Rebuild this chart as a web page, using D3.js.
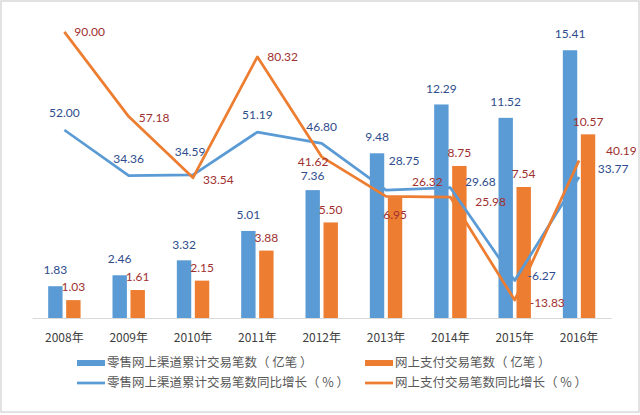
<!DOCTYPE html>
<html>
<head>
<meta charset="utf-8">
<script src="https://cdn.jsdelivr.net/npm/d3@7"></script>
<style>
  html, body { margin: 0; padding: 0; background: #fff; }
  svg { display: block; }
</style>
</head>
<body>
<svg id="chart" width="640" height="415"></svg>
<script>
// ---- data ----
const years = ['2008年','2009年','2010年','2011年','2012年','2013年','2014年','2015年','2016年'];
const retailCount = [1.83, 2.46, 3.32, 5.01, 7.36, 9.48, 12.29, 11.52, 15.41];
const payCount = [1.03, 1.61, 2.15, 3.88, 5.50, 6.95, 8.75, 7.54, 10.57];
const retailGrowth = [52.00, 34.36, 34.59, 51.19, 46.80, 28.75, 29.68, -6.27, 33.77];
const payGrowth = [90.00, 57.18, 33.54, 80.32, 41.62, 26.32, 25.98, -13.83, 40.19];
const seriesNames = ['零售网上渠道累计交易笔数（ 亿笔 ）', '网上支付交易笔数（ 亿笔 ）',
                     '零售网上渠道累计交易笔数同比增长（ % ）', '网上支付交易笔数同比增长（ % ）'];

// label nudges (manual placements in the original)
const retailGrowthNudge = [[0,0],[0,0],[-3,-6],[0,0],[0,0],[18,-12],[30,11],[27,12],[34,9]];
const payGrowthNudge = [[0,0],[0,1],[0,2],[0,0],[-34,5],[16,-15],[15,5],[5,3],[17,-10]];
const payCountNudge = [[0,0],[0,0],[0,0],[0,0],[0,0],[0,31],[0,0],[0,0],[0,0]];
const retailCountNudge = [[0,0],[0,0],[0,0],[0,0],[0,2],[0,0],[0,0],[0,0],[0,0]];

const BLUE = '#5B9BD5', ORANGE = '#ED7D31';
const BLUE_TXT = '#2f4d8c', RED_TXT = '#a0302f';
const NUM_FONT = 'Lato, "Open Sans", sans-serif';
const CJK_FONT = '"Noto Sans CJK SC", "Noto Sans", sans-serif';

const svg = d3.select('#chart');
svg.append('rect').attr('x', 1).attr('y', 1).attr('width', 638).attr('height', 411)
  .attr('fill', '#fff').attr('stroke', '#d9d9d9').attr('stroke-width', 1.5);

const x = d3.scaleBand().domain(years).range([32.2, 611.2]).padding(0);
const yL = d3.scaleLinear().domain([0, 16]).range([318, 40]);
const yR = d3.scaleLinear().domain([-20, 100]).range([316, 6]);
const cx = d => x(d) + x.bandwidth() / 2;
const BW = 14.4, OFF = 9;

// bars
const gBars = svg.append('g');
gBars.selectAll('.b1').data(years).join('rect')
  .attr('x', (d) => cx(d) - OFF - BW / 2)
  .attr('y', (d, i) => yL(retailCount[i]))
  .attr('width', BW)
  .attr('height', (d, i) => yL(0) - yL(retailCount[i]))
  .attr('fill', BLUE);
gBars.selectAll('.b2').data(years).join('rect')
  .attr('x', (d) => cx(d) + OFF - BW / 2)
  .attr('y', (d, i) => yL(payCount[i]))
  .attr('width', BW)
  .attr('height', (d, i) => yL(0) - yL(payCount[i]))
  .attr('fill', ORANGE);

// x axis
const ax = svg.append('g').attr('transform', `translate(0,${yL(0)})`)
  .call(d3.axisBottom(x).tickSize(0).tickPadding(15));
ax.select('.domain').attr('stroke', '#d9d9d9').attr('stroke-width', 1);
ax.selectAll('text').attr('font-family', CJK_FONT).attr('font-size', 12).attr('fill', '#404040');

// lines
const line = (vals) => d3.line().x((d) => cx(d)).y((d, i) => yR(vals[i]))(years);
svg.append('path').attr('d', line(retailGrowth)).attr('fill', 'none')
  .attr('stroke', BLUE).attr('stroke-width', 2.75).attr('stroke-linejoin', 'round');
svg.append('path').attr('d', line(payGrowth)).attr('fill', 'none')
  .attr('stroke', ORANGE).attr('stroke-width', 2.75).attr('stroke-linejoin', 'round');

// labels
const gL = svg.append('g').attr('font-family', NUM_FONT).attr('font-size', 12);
gL.selectAll('.l1').data(years).join('text')
  .attr('x', (d, i) => cx(d) - OFF + retailCountNudge[i][0])
  .attr('y', (d, i) => yL(retailCount[i]) - 16 + retailCountNudge[i][1])
  .attr('dy', '0.35em').attr('text-anchor', 'middle').attr('fill', BLUE_TXT)
  .text((d, i) => retailCount[i].toFixed(2));
gL.selectAll('.l2').data(years).join('text')
  .attr('x', (d, i) => cx(d) + OFF + payCountNudge[i][0])
  .attr('y', (d, i) => yL(payCount[i]) - 13 + payCountNudge[i][1])
  .attr('dy', '0.35em').attr('text-anchor', 'middle').attr('fill', RED_TXT)
  .text((d, i) => payCount[i].toFixed(2));
gL.selectAll('.l3').data(years).join('text')
  .attr('x', (d, i) => cx(d) + retailGrowthNudge[i][0])
  .attr('y', (d, i) => yR(retailGrowth[i]) - 17 + retailGrowthNudge[i][1])
  .attr('dy', '0.35em').attr('text-anchor', 'middle').attr('fill', BLUE_TXT)
  .text((d, i) => retailGrowth[i].toFixed(2));
gL.selectAll('.l4').data(years).join('text')
  .attr('x', (d, i) => cx(d) + 10 + payGrowthNudge[i][0])
  .attr('y', (d, i) => yR(payGrowth[i]) + payGrowthNudge[i][1])
  .attr('dy', '0.35em').attr('text-anchor', 'start').attr('fill', RED_TXT)
  .text((d, i) => payGrowth[i].toFixed(2));

// legend
const legendItems = [
  { name: seriesNames[0], color: BLUE, type: 'rect', x: 77, y: 363 },
  { name: seriesNames[1], color: ORANGE, type: 'rect', x: 365, y: 363 },
  { name: seriesNames[2], color: BLUE, type: 'line', x: 77, y: 383 },
  { name: seriesNames[3], color: ORANGE, type: 'line', x: 365, y: 383 }
];
const lg = svg.append('g');
legendItems.forEach(it => {
  if (it.type === 'rect') {
    lg.append('rect').attr('x', it.x).attr('y', it.y - 3).attr('width', 28).attr('height', 6).attr('fill', it.color);
  } else {
    lg.append('line').attr('x1', it.x).attr('x2', it.x + 28).attr('y1', it.y).attr('y2', it.y)
      .attr('stroke', it.color).attr('stroke-width', 2.75);
  }
  lg.append('text').attr('x', it.x + 30).attr('y', it.y).attr('dy', '0.35em')
    .attr('font-family', CJK_FONT).attr('font-size', 12.5).attr('fill', '#595959').text(it.name);
});
</script>
</body>
</html>
